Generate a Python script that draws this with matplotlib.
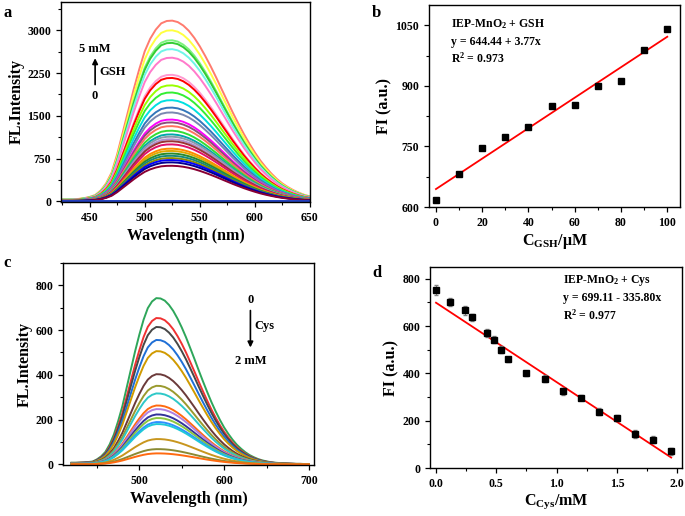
import matplotlib
matplotlib.use('Agg')

import numpy as np
import matplotlib.pyplot as plt
from matplotlib.ticker import MultipleLocator

plt.rcParams['font.family'] = ['Liberation Serif', 'DejaVu Serif']
plt.rcParams['font.weight'] = 'bold'
plt.rcParams['axes.labelweight'] = 'bold'
plt.rcParams['mathtext.fontset'] = 'custom'
plt.rcParams['mathtext.rm'] = 'Liberation Serif:bold'
plt.rcParams['mathtext.it'] = 'Liberation Serif:bold'
plt.rcParams['mathtext.bf'] = 'Liberation Serif:bold'

# ---- panel a: GSH emission spectra (normalised profile)
wl_a = [425, 430, 435, 440, 445, 450, 455, 460, 465, 470, 475, 480, 485, 490,
        495, 500, 505, 510, 515, 520, 525, 530, 535, 540, 545, 550, 555, 560,
        565, 570, 575, 580, 585, 590, 595, 600, 605, 610, 615, 620, 625, 630,
        635, 640, 645, 650]
prof_a = [0.011, 0.011, 0.012, 0.014, 0.018, 0.025, 0.035, 0.06, 0.10, 0.16,
          0.26, 0.38, 0.50, 0.62, 0.73, 0.83, 0.90, 0.95, 0.985, 0.998, 1.0,
          0.992, 0.973, 0.944, 0.905, 0.858, 0.804, 0.746, 0.684, 0.619, 0.555,
          0.491, 0.431, 0.373, 0.320, 0.271, 0.226, 0.188, 0.154, 0.124, 0.099,
          0.079, 0.062, 0.048, 0.036, 0.028]
peaks_a = [3170, 3000, 2825, 2780, 2670, 2520, 2220, 2165, 2035, 1910, 1775,
           1645, 1560, 1435, 1385, 1320, 1240, 1175, 1135, 1090, 1055, 1000,
           925, 885, 840, 800, 760, 725, 685, 625, 0]
colors_a = ['#FF7B6E', '#FFFF40', '#7CF27C', '#33CC33', '#70F5E8', '#FF7ACB',
            '#FF9AD2', '#FF0000', '#99FF00', '#33EE33', '#00E0E0', '#3377BB',
            '#7A88B0', '#FF00FF', '#8A4E7A', '#FF7060', '#33DD33', '#00A8A8',
            '#8A9AAA', '#B090D0', '#993333', '#E0106A', '#FF8A00', '#DDAA00',
            '#2A8B2A', '#158A7A', '#8A8A00', '#0000FF', '#000090', '#880033',
            '#2040C0']

# ---- panel b: GSH calibration
gsh_x = [0, 10, 20, 30, 40, 50, 60, 70, 80, 90, 100]
gsh_y = [617, 682, 746, 773, 798, 851, 853, 900, 912, 989, 1041]
gsh_fit = (644.44, 3.77)

# ---- panel c: Cys emission spectra
wl_c = [420, 425, 430, 435, 440, 445, 450, 455, 460, 465, 470, 475, 480, 485,
        490, 495, 500, 505, 510, 515, 520, 525, 530, 535, 540, 545, 550, 555,
        560, 565, 570, 575, 580, 585, 590, 595, 600, 605, 610, 615, 620, 625,
        630, 635, 640, 645, 650, 655, 660, 665, 670, 675, 680, 685, 690, 695,
        700]
prof_c = [0.010, 0.010, 0.011, 0.012, 0.014, 0.017, 0.030, 0.048, 0.075, 0.12,
          0.18, 0.26, 0.35, 0.46, 0.57, 0.68, 0.78, 0.87, 0.94, 0.98, 1.0,
          0.998, 0.985, 0.959, 0.923, 0.877, 0.824, 0.765, 0.700, 0.634, 0.566,
          0.500, 0.436, 0.375, 0.319, 0.268, 0.222, 0.183, 0.148, 0.118, 0.094,
          0.073, 0.056, 0.043, 0.032, 0.024, 0.018, 0.013, 0.010, 0.008, 0.006,
          0.005, 0.004, 0.003, 0.003, 0.002, 0.002]
peaks_c = [743, 654, 614, 556, 506, 403, 351, 317, 263, 247, 223, 207, 189,
           180, 113, 68, 49]
colors_c = ['#2EA65A', '#F03232', '#474747', '#1F6FD6', '#D09A00', '#6B3A3A',
            '#9A9A2E', '#2EC8C8', '#FF6A10', '#B07FE0', '#33339A', '#8CC63F',
            '#2E8FFF', '#1FC8D8', '#C8961E', '#8A8A33', '#FF6A10']

# ---- panel d: Cys calibration
cys_x = [0.0, 0.12, 0.24, 0.30, 0.42, 0.48, 0.54, 0.60, 0.75, 0.90, 1.05,
         1.20, 1.35, 1.50, 1.65, 1.80, 1.95]
cys_y = [752, 702, 667, 638, 572, 543, 501, 460, 401, 378, 324, 298, 238,
         211, 144, 120, 71]
cys_err = [20, 15, 18, 15, 16, 15, 15, 10, 10, 15, 15, 12, 15, 12, 15, 15, 14]
cys_fit = (699.11, -335.80)

TICK_FS = 8.5
LABEL_FS = 11.5
LW = 1.4


def style_axes(ax):
    for s in ax.spines.values():
        s.set_linewidth(1.0)
    ax.tick_params(direction='out', length=3.5, width=0.9, labelsize=TICK_FS)
    ax.tick_params(which='minor', direction='out', length=2, width=0.8)


fig = plt.figure(figsize=(6.85, 5.16), dpi=100)

# a
ax = fig.add_axes([0.089, 0.6085, 0.3635, 0.388])
wa = np.array(wl_a)
pa = np.array(prof_a)
for pk, c in zip(peaks_a, colors_a):
    ax.plot(wa, pk * pa, color=c, lw=LW)
ax.set_xlim(424, 650)
ax.set_ylim(-10, 3500)
ax.set_yticks([0, 750, 1500, 2250, 3000])
ax.set_xticks([450, 500, 550, 600, 650])
ax.xaxis.set_minor_locator(MultipleLocator(25))
ax.yaxis.set_minor_locator(MultipleLocator(375))
ax.set_xlabel('Wavelength (nm)', fontsize=LABEL_FS, labelpad=3)
ax.set_ylabel('FL.Intensity', fontsize=LABEL_FS, labelpad=2)
ax.text(455, 2680, '5 mM', fontsize=9, ha='center', va='center')
ax.annotate('', xy=(455, 2560), xytext=(455, 2000),
            arrowprops=dict(arrowstyle='-|>', color='black', lw=1.2,
                            mutation_scale=8))
ax.text(459, 2270, 'GSH', fontsize=9, ha='left', va='center')
ax.text(455, 1840, '0', fontsize=9, ha='center', va='center')
style_axes(ax)

# b
ax = fig.add_axes([0.6263, 0.5988, 0.3664, 0.3915])
xs = np.array([0, 100])
ax.plot(xs, gsh_fit[0] + gsh_fit[1] * xs, color='#FF0000', lw=1.3)
ax.plot(gsh_x, gsh_y, 's', color='black', ms=4)
ax.set_xlim(-3, 105.5)
ax.set_ylim(600, 1100)
ax.set_xticks([0, 20, 40, 60, 80, 100])
ax.set_yticks([600, 750, 900, 1050])
ax.xaxis.set_minor_locator(MultipleLocator(10))
ax.yaxis.set_minor_locator(MultipleLocator(75))
ax.set_xlabel(r'C$_{\mathregular{GSH}}$/$\mathregular{\mu}$M', fontsize=LABEL_FS, labelpad=2)
ax.set_ylabel('FI (a.u.)', fontsize=LABEL_FS, labelpad=2)
ax.text(6.5, 1052, r'IEP-MnO$_2$ + GSH', fontsize=8.5, va='center')
ax.text(6.5, 1008, 'y = 644.44 + 3.77x', fontsize=8.5, va='center')
ax.text(6.5, 968, r'R$^2$ = 0.973', fontsize=8.5, va='center')
style_axes(ax)

# c
ax = fig.add_axes([0.092, 0.0988, 0.3664, 0.3915])
wc = np.array(wl_c)
pc = np.array(prof_c)
for pk, c in zip(peaks_c, colors_c):
    ax.plot(wc, pk * pc, color=c, lw=LW)
ax.set_xlim(410, 706)
ax.set_ylim(-3, 900)
ax.set_xticks([500, 600, 700])
ax.set_yticks([0, 200, 400, 600, 800])
ax.xaxis.set_minor_locator(MultipleLocator(50))
ax.yaxis.set_minor_locator(MultipleLocator(100))
ax.set_xlabel('Wavelength (nm)', fontsize=LABEL_FS, labelpad=3)
ax.set_ylabel('FL.Intensity', fontsize=LABEL_FS, labelpad=2)
ax.text(631, 735, '0', fontsize=9, ha='center', va='center')
ax.annotate('', xy=(631, 510), xytext=(631, 700),
            arrowprops=dict(arrowstyle='-|>', color='black', lw=1.2,
                            mutation_scale=8))
ax.text(636, 620, 'Cys', fontsize=9, ha='left', va='center')
ax.text(631, 462, '2 mM', fontsize=9, ha='center', va='center')
style_axes(ax)

# d
ax = fig.add_axes([0.6277, 0.093, 0.368, 0.3895])
xs = np.array([0, 1.95])
ax.plot(xs, cys_fit[0] + cys_fit[1] * xs, color='#FF0000', lw=1.3)
ax.errorbar(cys_x, cys_y, yerr=cys_err, fmt='s', color='black', ms=4,
            ecolor='#808080', elinewidth=0.8, capsize=1.5)
ax.set_xlim(-0.05, 2.04)
ax.set_ylim(0, 850)
ax.set_xticks([0.0, 0.5, 1.0, 1.5, 2.0])
ax.set_yticks([0, 200, 400, 600, 800])
ax.xaxis.set_minor_locator(MultipleLocator(0.25))
ax.yaxis.set_minor_locator(MultipleLocator(100))
ax.set_xlabel(r'C$_{\mathregular{Cys}}$/mM', fontsize=LABEL_FS, labelpad=2)
ax.set_ylabel('FI (a.u.)', fontsize=LABEL_FS, labelpad=2)
ax.text(1.05, 792, r'IEP-MnO$_2$ + Cys', fontsize=8.5, va='center')
ax.text(1.05, 720, 'y = 699.11 - 335.80x', fontsize=8.5, va='center')
ax.text(1.05, 645, r'R$^2$ = 0.977', fontsize=8.5, va='center')
style_axes(ax)

# panel letters
for lbl, (x, y) in zip('abcd', [(0.005, 0.975), (0.543, 0.975),
                                (0.005, 0.49), (0.543, 0.47)]):
    fig.text(x, y, lbl, fontsize=12, fontweight='bold', va='center')

fig.savefig('out.png', dpi=100, facecolor='white')
